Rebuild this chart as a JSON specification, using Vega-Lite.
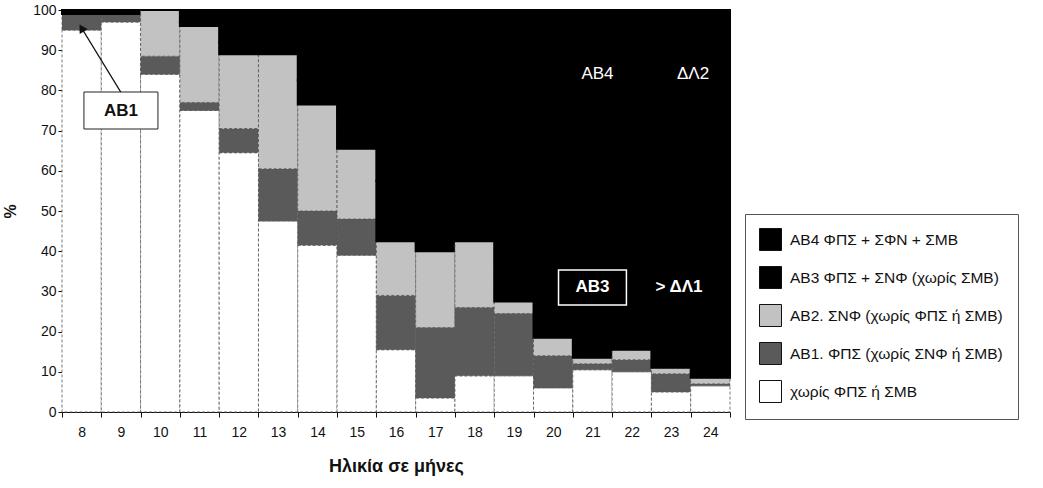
{
  "$schema": "https://vega.github.io/schema/vega-lite/v6.json",
  "width": 668,
  "height": 402,
  "autosize": {"type": "none"},
  "padding": {"left": 62, "top": 10, "right": 313, "bottom": 76},
  "background": "white",
  "config": {
    "font": "Liberation Sans",
    "view": {"stroke": null},
    "axis": {"labelFont": "Liberation Sans", "titleFont": "Liberation Sans", "labelColor": "#111", "titleColor": "#111", "domainColor": "#111", "tickColor": "#111", "grid": false}
  },
  "datasets": {
    "bars": [
      {"age": 8, "cat": "χωρίς ΦΠΣ ή ΣΜΒ", "k": 0, "value": 95},
      {"age": 8, "cat": "AB1. ΦΠΣ (χωρίς ΣΝΦ ή ΣΜΒ)", "k": 1, "value": 4},
      {"age": 8, "cat": "AB2. ΣΝΦ (χωρίς ΦΠΣ ή ΣΜΒ)", "k": 2, "value": 0},
      {"age": 8, "cat": "AB3  ΦΠΣ + ΣΝΦ (χωρίς ΣΜΒ)", "k": 3, "value": 0},
      {"age": 8, "cat": "AB4  ΦΠΣ + ΣΦΝ + ΣΜΒ", "k": 4, "value": 1},
      {"age": 9, "cat": "χωρίς ΦΠΣ ή ΣΜΒ", "k": 0, "value": 97},
      {"age": 9, "cat": "AB1. ΦΠΣ (χωρίς ΣΝΦ ή ΣΜΒ)", "k": 1, "value": 2},
      {"age": 9, "cat": "AB2. ΣΝΦ (χωρίς ΦΠΣ ή ΣΜΒ)", "k": 2, "value": 0},
      {"age": 9, "cat": "AB3  ΦΠΣ + ΣΝΦ (χωρίς ΣΜΒ)", "k": 3, "value": 0},
      {"age": 9, "cat": "AB4  ΦΠΣ + ΣΦΝ + ΣΜΒ", "k": 4, "value": 1},
      {"age": 10, "cat": "χωρίς ΦΠΣ ή ΣΜΒ", "k": 0, "value": 84},
      {"age": 10, "cat": "AB1. ΦΠΣ (χωρίς ΣΝΦ ή ΣΜΒ)", "k": 1, "value": 4.5},
      {"age": 10, "cat": "AB2. ΣΝΦ (χωρίς ΦΠΣ ή ΣΜΒ)", "k": 2, "value": 11.5},
      {"age": 10, "cat": "AB3  ΦΠΣ + ΣΝΦ (χωρίς ΣΜΒ)", "k": 3, "value": 0},
      {"age": 10, "cat": "AB4  ΦΠΣ + ΣΦΝ + ΣΜΒ", "k": 4, "value": 0},
      {"age": 11, "cat": "χωρίς ΦΠΣ ή ΣΜΒ", "k": 0, "value": 75},
      {"age": 11, "cat": "AB1. ΦΠΣ (χωρίς ΣΝΦ ή ΣΜΒ)", "k": 1, "value": 2},
      {"age": 11, "cat": "AB2. ΣΝΦ (χωρίς ΦΠΣ ή ΣΜΒ)", "k": 2, "value": 19},
      {"age": 11, "cat": "AB3  ΦΠΣ + ΣΝΦ (χωρίς ΣΜΒ)", "k": 3, "value": 1},
      {"age": 11, "cat": "AB4  ΦΠΣ + ΣΦΝ + ΣΜΒ", "k": 4, "value": 3},
      {"age": 12, "cat": "χωρίς ΦΠΣ ή ΣΜΒ", "k": 0, "value": 64.5},
      {"age": 12, "cat": "AB1. ΦΠΣ (χωρίς ΣΝΦ ή ΣΜΒ)", "k": 1, "value": 6},
      {"age": 12, "cat": "AB2. ΣΝΦ (χωρίς ΦΠΣ ή ΣΜΒ)", "k": 2, "value": 18.5},
      {"age": 12, "cat": "AB3  ΦΠΣ + ΣΝΦ (χωρίς ΣΜΒ)", "k": 3, "value": 3},
      {"age": 12, "cat": "AB4  ΦΠΣ + ΣΦΝ + ΣΜΒ", "k": 4, "value": 8},
      {"age": 13, "cat": "χωρίς ΦΠΣ ή ΣΜΒ", "k": 0, "value": 47.5},
      {"age": 13, "cat": "AB1. ΦΠΣ (χωρίς ΣΝΦ ή ΣΜΒ)", "k": 1, "value": 13},
      {"age": 13, "cat": "AB2. ΣΝΦ (χωρίς ΦΠΣ ή ΣΜΒ)", "k": 2, "value": 28.5},
      {"age": 13, "cat": "AB3  ΦΠΣ + ΣΝΦ (χωρίς ΣΜΒ)", "k": 3, "value": 3},
      {"age": 13, "cat": "AB4  ΦΠΣ + ΣΦΝ + ΣΜΒ", "k": 4, "value": 8},
      {"age": 14, "cat": "χωρίς ΦΠΣ ή ΣΜΒ", "k": 0, "value": 41.5},
      {"age": 14, "cat": "AB1. ΦΠΣ (χωρίς ΣΝΦ ή ΣΜΒ)", "k": 1, "value": 8.5},
      {"age": 14, "cat": "AB2. ΣΝΦ (χωρίς ΦΠΣ ή ΣΜΒ)", "k": 2, "value": 26.5},
      {"age": 14, "cat": "AB3  ΦΠΣ + ΣΝΦ (χωρίς ΣΜΒ)", "k": 3, "value": 6},
      {"age": 14, "cat": "AB4  ΦΠΣ + ΣΦΝ + ΣΜΒ", "k": 4, "value": 17.5},
      {"age": 15, "cat": "χωρίς ΦΠΣ ή ΣΜΒ", "k": 0, "value": 39},
      {"age": 15, "cat": "AB1. ΦΠΣ (χωρίς ΣΝΦ ή ΣΜΒ)", "k": 1, "value": 9},
      {"age": 15, "cat": "AB2. ΣΝΦ (χωρίς ΦΠΣ ή ΣΜΒ)", "k": 2, "value": 17.5},
      {"age": 15, "cat": "AB3  ΦΠΣ + ΣΝΦ (χωρίς ΣΜΒ)", "k": 3, "value": 9},
      {"age": 15, "cat": "AB4  ΦΠΣ + ΣΦΝ + ΣΜΒ", "k": 4, "value": 25.5},
      {"age": 16, "cat": "χωρίς ΦΠΣ ή ΣΜΒ", "k": 0, "value": 15.5},
      {"age": 16, "cat": "AB1. ΦΠΣ (χωρίς ΣΝΦ ή ΣΜΒ)", "k": 1, "value": 13.5},
      {"age": 16, "cat": "AB2. ΣΝΦ (χωρίς ΦΠΣ ή ΣΜΒ)", "k": 2, "value": 13.5},
      {"age": 16, "cat": "AB3  ΦΠΣ + ΣΝΦ (χωρίς ΣΜΒ)", "k": 3, "value": 15},
      {"age": 16, "cat": "AB4  ΦΠΣ + ΣΦΝ + ΣΜΒ", "k": 4, "value": 42.5},
      {"age": 17, "cat": "χωρίς ΦΠΣ ή ΣΜΒ", "k": 0, "value": 3.5},
      {"age": 17, "cat": "AB1. ΦΠΣ (χωρίς ΣΝΦ ή ΣΜΒ)", "k": 1, "value": 17.5},
      {"age": 17, "cat": "AB2. ΣΝΦ (χωρίς ΦΠΣ ή ΣΜΒ)", "k": 2, "value": 19},
      {"age": 17, "cat": "AB3  ΦΠΣ + ΣΝΦ (χωρίς ΣΜΒ)", "k": 3, "value": 16},
      {"age": 17, "cat": "AB4  ΦΠΣ + ΣΦΝ + ΣΜΒ", "k": 4, "value": 44},
      {"age": 18, "cat": "χωρίς ΦΠΣ ή ΣΜΒ", "k": 0, "value": 9},
      {"age": 18, "cat": "AB1. ΦΠΣ (χωρίς ΣΝΦ ή ΣΜΒ)", "k": 1, "value": 17},
      {"age": 18, "cat": "AB2. ΣΝΦ (χωρίς ΦΠΣ ή ΣΜΒ)", "k": 2, "value": 16.5},
      {"age": 18, "cat": "AB3  ΦΠΣ + ΣΝΦ (χωρίς ΣΜΒ)", "k": 3, "value": 15},
      {"age": 18, "cat": "AB4  ΦΠΣ + ΣΦΝ + ΣΜΒ", "k": 4, "value": 42.5},
      {"age": 19, "cat": "χωρίς ΦΠΣ ή ΣΜΒ", "k": 0, "value": 9},
      {"age": 19, "cat": "AB1. ΦΠΣ (χωρίς ΣΝΦ ή ΣΜΒ)", "k": 1, "value": 15.5},
      {"age": 19, "cat": "AB2. ΣΝΦ (χωρίς ΦΠΣ ή ΣΜΒ)", "k": 2, "value": 3},
      {"age": 19, "cat": "AB3  ΦΠΣ + ΣΝΦ (χωρίς ΣΜΒ)", "k": 3, "value": 19},
      {"age": 19, "cat": "AB4  ΦΠΣ + ΣΦΝ + ΣΜΒ", "k": 4, "value": 53.5},
      {"age": 20, "cat": "χωρίς ΦΠΣ ή ΣΜΒ", "k": 0, "value": 6},
      {"age": 20, "cat": "AB1. ΦΠΣ (χωρίς ΣΝΦ ή ΣΜΒ)", "k": 1, "value": 8},
      {"age": 20, "cat": "AB2. ΣΝΦ (χωρίς ΦΠΣ ή ΣΜΒ)", "k": 2, "value": 4.5},
      {"age": 20, "cat": "AB3  ΦΠΣ + ΣΝΦ (χωρίς ΣΜΒ)", "k": 3, "value": 21},
      {"age": 20, "cat": "AB4  ΦΠΣ + ΣΦΝ + ΣΜΒ", "k": 4, "value": 60.5},
      {"age": 21, "cat": "χωρίς ΦΠΣ ή ΣΜΒ", "k": 0, "value": 10.5},
      {"age": 21, "cat": "AB1. ΦΠΣ (χωρίς ΣΝΦ ή ΣΜΒ)", "k": 1, "value": 1.5},
      {"age": 21, "cat": "AB2. ΣΝΦ (χωρίς ΦΠΣ ή ΣΜΒ)", "k": 2, "value": 1.5},
      {"age": 21, "cat": "AB3  ΦΠΣ + ΣΝΦ (χωρίς ΣΜΒ)", "k": 3, "value": 22},
      {"age": 21, "cat": "AB4  ΦΠΣ + ΣΦΝ + ΣΜΒ", "k": 4, "value": 64.5},
      {"age": 22, "cat": "χωρίς ΦΠΣ ή ΣΜΒ", "k": 0, "value": 10},
      {"age": 22, "cat": "AB1. ΦΠΣ (χωρίς ΣΝΦ ή ΣΜΒ)", "k": 1, "value": 3},
      {"age": 22, "cat": "AB2. ΣΝΦ (χωρίς ΦΠΣ ή ΣΜΒ)", "k": 2, "value": 2.5},
      {"age": 22, "cat": "AB3  ΦΠΣ + ΣΝΦ (χωρίς ΣΜΒ)", "k": 3, "value": 22},
      {"age": 22, "cat": "AB4  ΦΠΣ + ΣΦΝ + ΣΜΒ", "k": 4, "value": 62.5},
      {"age": 23, "cat": "χωρίς ΦΠΣ ή ΣΜΒ", "k": 0, "value": 5},
      {"age": 23, "cat": "AB1. ΦΠΣ (χωρίς ΣΝΦ ή ΣΜΒ)", "k": 1, "value": 4.5},
      {"age": 23, "cat": "AB2. ΣΝΦ (χωρίς ΦΠΣ ή ΣΜΒ)", "k": 2, "value": 1.5},
      {"age": 23, "cat": "AB3  ΦΠΣ + ΣΝΦ (χωρίς ΣΜΒ)", "k": 3, "value": 23},
      {"age": 23, "cat": "AB4  ΦΠΣ + ΣΦΝ + ΣΜΒ", "k": 4, "value": 66},
      {"age": 24, "cat": "χωρίς ΦΠΣ ή ΣΜΒ", "k": 0, "value": 6.5},
      {"age": 24, "cat": "AB1. ΦΠΣ (χωρίς ΣΝΦ ή ΣΜΒ)", "k": 1, "value": 0.5},
      {"age": 24, "cat": "AB2. ΣΝΦ (χωρίς ΦΠΣ ή ΣΜΒ)", "k": 2, "value": 1.5},
      {"age": 24, "cat": "AB3  ΦΠΣ + ΣΝΦ (χωρίς ΣΜΒ)", "k": 3, "value": 24},
      {"age": 24, "cat": "AB4  ΦΠΣ + ΣΦΝ + ΣΜΒ", "k": 4, "value": 67.5}
    ],
    "notes": [
      {"age": 9, "y": 75, "label": "AB1", "kind": "boxdark"},
      {"age": 21, "y": 31, "label": "AB3", "kind": "boxlight"},
      {"age": 21, "y": 84, "label": "AB4", "kind": "plain"},
      {"age": 23, "y": 84, "label": "ΔΛ2", "kind": "plain2"},
      {"age": 23, "y": 31, "label": "> ΔΛ1", "kind": "bold2"}
    ],
    "arrow": [
      {"age": 9, "age2": 8, "y": 79.5, "y2": 95.5}
    ]
  },
  "layer": [
    {
      "data": {"name": "bars"},
      "mark": {"type": "bar"},
      "encoding": {
        "x": {
          "field": "age", "type": "ordinal",
          "scale": {"paddingInner": 0, "paddingOuter": 0},
          "axis": {"title": "Ηλικία σε μήνες", "labelAngle": 0, "labelFontSize": 14, "labelPadding": 8, "tickBand": "extent", "tickSize": 5, "titleFontSize": 18, "titleFontWeight": "bold", "titlePadding": 18}
        },
        "y": {
          "field": "value", "type": "quantitative", "stack": "zero",
          "scale": {"domain": [0, 100], "nice": false},
          "axis": {"title": "%", "values": [0, 10, 20, 30, 40, 50, 60, 70, 80, 90, 100], "labelFontSize": 14, "tickSize": 4, "titleFontSize": 16, "titleFontWeight": "bold", "titlePadding": 14}
        },
        "order": {"field": "k", "type": "quantitative", "sort": "ascending"},
        "color": {
          "field": "cat", "type": "nominal",
          "sort": ["AB4  ΦΠΣ + ΣΦΝ + ΣΜΒ", "AB3  ΦΠΣ + ΣΝΦ (χωρίς ΣΜΒ)", "AB2. ΣΝΦ (χωρίς ΦΠΣ ή ΣΜΒ)", "AB1. ΦΠΣ (χωρίς ΣΝΦ ή ΣΜΒ)", "χωρίς ΦΠΣ ή ΣΜΒ"],
          "scale": {
            "domain": ["AB4  ΦΠΣ + ΣΦΝ + ΣΜΒ", "AB3  ΦΠΣ + ΣΝΦ (χωρίς ΣΜΒ)", "AB2. ΣΝΦ (χωρίς ΦΠΣ ή ΣΜΒ)", "AB1. ΦΠΣ (χωρίς ΣΝΦ ή ΣΜΒ)", "χωρίς ΦΠΣ ή ΣΜΒ"],
            "range": ["#000000", "#000000", "#c2c2c2", "#5a5a5a", "#ffffff"]
          },
          "legend": {
            "title": null, "orient": "none", "legendX": 683, "legendY": 204,
            "symbolType": "square", "symbolSize": 484, "symbolStrokeColor": "#111", "symbolStrokeWidth": 1, "symbolOpacity": 1,
            "labelFontSize": 15.5, "labelColor": "#111", "labelLimit": 290, "labelOffset": 8,
            "rowPadding": 11, "padding": 14,
            "strokeColor": "#555", "fillColor": "white"
          }
        },
        "stroke": {"condition": {"test": "datum.k >= 3", "value": "#000000"}, "value": "#555555"},
        "strokeWidth": {"condition": {"test": "datum.k >= 3", "value": 2}, "value": 0.8},
        "strokeDash": {"condition": {"test": "datum.k >= 3", "value": [100, 0]}, "value": [3, 2]}
      }
    },
    {
      "data": {"name": "arrow"},
      "mark": {"type": "rule", "color": "#111", "strokeWidth": 1.2},
      "encoding": {
        "x": {"field": "age", "type": "ordinal"},
        "x2": {"field": "age2"},
        "y": {"field": "y", "type": "quantitative"},
        "y2": {"field": "y2"}
      }
    },
    {
      "data": {"name": "arrow"},
      "mark": {"type": "point", "shape": "triangle-up", "filled": true, "color": "#111", "size": 90, "angle": 329, "opacity": 1},
      "encoding": {
        "x": {"field": "age2", "type": "ordinal"},
        "y": {"field": "y2", "type": "quantitative"}
      }
    },
    {
      "data": {"name": "notes"},
      "transform": [{"filter": "datum.kind === 'boxdark'"}],
      "mark": {"type": "point", "shape": "M-2,-1H2V1H-2Z", "size": 1369, "filled": false, "fill": "white", "fillOpacity": 1, "stroke": "#222", "strokeWidth": 1, "opacity": 1},
      "encoding": {
        "x": {"field": "age", "type": "ordinal"},
        "y": {"field": "y", "type": "quantitative"}
      }
    },
    {
      "data": {"name": "notes"},
      "transform": [{"filter": "datum.kind === 'boxlight'"}],
      "mark": {"type": "point", "shape": "M-1.94,-1H1.94V1H-1.94Z", "size": 1225, "filled": false, "stroke": "white", "strokeWidth": 1.5, "opacity": 1},
      "encoding": {
        "x": {"field": "age", "type": "ordinal"},
        "y": {"field": "y", "type": "quantitative"}
      }
    },
    {
      "data": {"name": "notes"},
      "transform": [{"filter": "datum.kind === 'boxdark'"}],
      "mark": {"type": "text", "fontSize": 17, "fontWeight": "bold", "color": "#111", "align": "center", "baseline": "middle"},
      "encoding": {
        "x": {"field": "age", "type": "ordinal"},
        "y": {"field": "y", "type": "quantitative"},
        "text": {"field": "label"}
      }
    },
    {
      "data": {"name": "notes"},
      "transform": [{"filter": "datum.kind === 'boxlight'"}],
      "mark": {"type": "text", "fontSize": 17, "fontWeight": "bold", "color": "white", "align": "center", "baseline": "middle"},
      "encoding": {
        "x": {"field": "age", "type": "ordinal"},
        "y": {"field": "y", "type": "quantitative"},
        "text": {"field": "label"}
      }
    },
    {
      "data": {"name": "notes"},
      "transform": [{"filter": "datum.kind === 'bold2'"}],
      "mark": {"type": "text", "fontSize": 17, "fontWeight": "bold", "color": "white", "align": "center", "baseline": "middle", "dx": 8},
      "encoding": {
        "x": {"field": "age", "type": "ordinal"},
        "y": {"field": "y", "type": "quantitative"},
        "text": {"field": "label"}
      }
    },
    {
      "data": {"name": "notes"},
      "transform": [{"filter": "datum.kind === 'plain'"}],
      "mark": {"type": "text", "fontSize": 17, "color": "white", "align": "center", "baseline": "middle", "dx": 5},
      "encoding": {
        "x": {"field": "age", "type": "ordinal"},
        "y": {"field": "y", "type": "quantitative"},
        "text": {"field": "label"}
      }
    },
    {
      "data": {"name": "notes"},
      "transform": [{"filter": "datum.kind === 'plain2'"}],
      "mark": {"type": "text", "fontSize": 17, "color": "white", "align": "center", "baseline": "middle", "dx": 22},
      "encoding": {
        "x": {"field": "age", "type": "ordinal"},
        "y": {"field": "y", "type": "quantitative"},
        "text": {"field": "label"}
      }
    }
  ]
}
